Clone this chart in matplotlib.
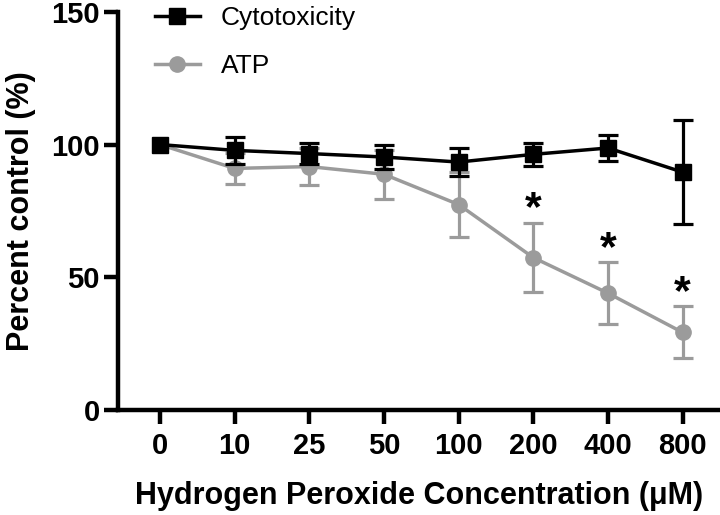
import matplotlib

matplotlib.use("Agg")

import matplotlib.pyplot as plt
import numpy as np

plt.rcParams["font.family"] = ["Liberation Sans", "DejaVu Sans"]

concentrations = ["0", "10", "25", "50", "100", "200", "400", "800"]
cyto_mean = [100.0, 97.8, 96.6, 95.3, 93.4, 96.3, 98.7, 89.6]
cyto_err = [np.nan, 5.2, 3.8, 4.4, 5.2, 4.3, 4.8, 19.7]
atp_mean = [100.0, 91.0, 91.7, 88.8, 77.4, 57.4, 44.0, 29.2]
atp_err = [np.nan, 5.9, 7.0, 9.3, 12.4, 12.9, 11.6, 9.8]
significant = [False, False, False, False, False, True, True, True]

BLACK = "#000000"
GRAY = "#9b9b9b"

x = np.arange(len(concentrations))

fig = plt.figure(figsize=(7.2, 5.15), dpi=100)
ax = fig.add_axes([0.164, 0.204, 0.836, 0.773])

style = dict(linewidth=2.5, elinewidth=2.3, capsize=7, capthick=2.3, markersize=11)
atp = ax.errorbar(x, atp_mean, yerr=atp_err, fmt="-o", color=GRAY, zorder=2, **style)
cyto = ax.errorbar(x, cyto_mean, yerr=cyto_err, fmt="-s", color=BLACK, zorder=3, **style)

# significance stars above the ATP error bars
for xi, m, e, sig in zip(x, atp_mean, atp_err, significant):
    if sig:
        ax.annotate("*", xy=(xi, m + e), xytext=(0, 2), textcoords="offset points",
                    ha="center", va="baseline", fontsize=31, fontweight="bold")

ax.set_xlim(-0.56, 7.5)
ax.set_ylim(0, 150)
ax.set_yticks([0, 50, 100, 150])
ax.set_xticks(x)
ax.set_xticklabels(concentrations)

for side in ("top", "right"):
    ax.spines[side].set_visible(False)
for side in ("left", "bottom"):
    ax.spines[side].set_linewidth(3.2)
ax.tick_params(width=3.2, length=10, labelsize=21, pad=3)
ax.tick_params(axis="x", pad=6)
for lab in ax.get_xticklabels() + ax.get_yticklabels():
    lab.set_fontweight("bold")

ax.set_xlabel("Hydrogen Peroxide Concentration (\u03bcM)", fontsize=22, fontweight="bold", labelpad=15)
ax.set_ylabel("Percent control (%)", fontsize=22, fontweight="bold", labelpad=11)

fig.legend([cyto[0], atp[0]], ["Cytotoxicity", "ATP"], loc="upper left",
           bbox_to_anchor=(0.215, 0.988), frameon=False, fontsize=19,
           handlelength=1.7, handletextpad=0.8, labelspacing=0.9,
           borderpad=0, borderaxespad=0)

fig.savefig("out.png", dpi=100)
